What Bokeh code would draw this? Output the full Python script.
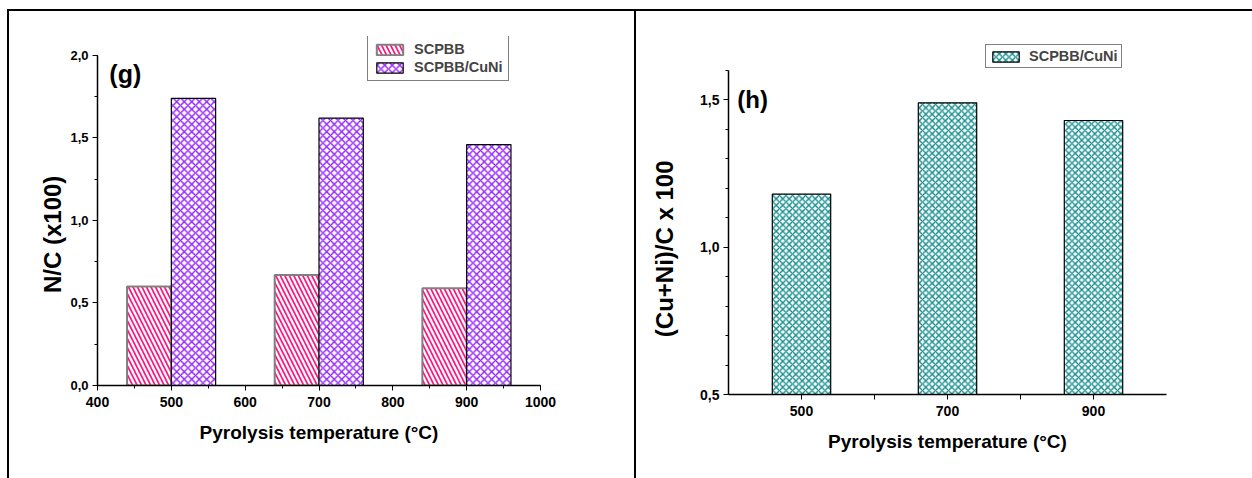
from bokeh.plotting import figure
from bokeh.layouts import row
from bokeh.models import (ColumnDataSource, Legend, LegendItem, Label,
                          SingleIntervalTicker, FixedTicker, CustomJSTickFormatter)
from bokeh.transform import dodge
from bokeh.embed import file_html
from bokeh.resources import INLINE

# ---------------- data ----------------
temperatures = [500, 700, 900]
nc_scpbb = [0.60, 0.67, 0.59]
nc_scpbb_cuni = [1.74, 1.62, 1.46]
cuni_over_c = [1.18, 1.49, 1.43]
series_labels = ["SCPBB", "SCPBB/CuNi"]
panel_tags = ["(g)", "(h)"]
x_title = "Pyrolysis temperature (°C)"
y_title_g = "N/C (x100)"
y_title_h = "(Cu+Ni)/C x 100"

# ---------------- style ----------------
FONT = "Liberation Sans"
PINK = "#FF1480"
PURPLE = "#8F1CFF"
TEAL = "#178E8E"
NBSP = "\u00a0"

comma_fmt = CustomJSTickFormatter(code="return tick.toFixed(1).replace('.', ',');")


def style(p, ytick_size, xtick_size):
    p.xgrid.visible = False
    p.ygrid.visible = False
    p.outline_line_color = None
    p.background_fill_color = "white"
    p.border_fill_alpha = 0.0
    for ax in (p.xaxis[0], p.yaxis[0]):
        ax.axis_line_color = "black"
        ax.axis_line_width = 1.5
        ax.major_tick_line_color = "black"
        ax.minor_tick_line_color = "black"
        ax.major_tick_line_width = 1
        ax.minor_tick_line_width = 1
        ax.major_tick_in = 0
        ax.minor_tick_in = 0
        ax.major_tick_out = 5
        ax.minor_tick_out = 3
        ax.major_label_text_font = FONT
        ax.major_label_text_font_style = "bold"
        ax.major_label_text_color = "black"
        ax.axis_label_text_font = FONT
        ax.axis_label_text_font_style = "bold"
        ax.axis_label_text_color = "black"
    p.yaxis[0].major_label_text_font_size = ytick_size
    p.xaxis[0].major_label_text_font_size = xtick_size
    p.yaxis[0].axis_label_text_font_size = "24px"
    p.xaxis[0].axis_label_text_font_size = "19px"


LINE = "linear-gradient(#000,#000)"

# ---------------- panel (g) ----------------
src_g = ColumnDataSource(dict(temp=temperatures, scpbb=nc_scpbb, cuni=nc_scpbb_cuni))

p1 = figure(frame_width=443, frame_height=349, x_range=(400, 1000), y_range=(0, 2.115),
            output_backend="svg", toolbar_location=None, title=None,
            min_border_left=97, min_border_right=96, min_border_top=36, min_border_bottom=93)
style(p1, "13px", "14px")
p1.xaxis[0].ticker = SingleIntervalTicker(interval=100, num_minor_ticks=2)
p1.yaxis[0].ticker = SingleIntervalTicker(interval=0.5, num_minor_ticks=2)
p1.yaxis[0].bounds = (0, 2.0)
p1.yaxis[0].formatter = comma_fmt
p1.xaxis[0].axis_label = x_title
p1.yaxis[0].axis_label = y_title_g + NBSP * 7
p1.xaxis[0].major_label_standoff = 6
p1.xaxis[0].axis_label_standoff = 12
p1.yaxis[0].major_label_standoff = 4
p1.yaxis[0].axis_label_standoff = 1

r1 = p1.vbar(x=dodge("temp", -30, range=p1.x_range), top="scpbb", bottom=0, width=60,
             source=src_g, fill_color="white", hatch_pattern="\\", hatch_color=PINK,
             hatch_scale=9, hatch_weight=1.7, line_color="#808080", line_width=2)
r2 = p1.vbar(x=dodge("temp", 30, range=p1.x_range), top="cuni", bottom=0, width=60,
             source=src_g, fill_color="white", hatch_pattern="x", hatch_color=PURPLE,
             hatch_scale=7.5, hatch_weight=1.4, line_color="black", line_width=1.2)

leg1 = Legend(items=[LegendItem(label=series_labels[0], renderers=[r1]),
                     LegendItem(label=series_labels[1], renderers=[r2])],
              location=(270, 304), border_line_color="black", border_line_width=1,
              padding=5, spacing=2, margin=0, glyph_width=33, glyph_height=13,
              label_standoff=8, label_height=13, label_text_font=FONT,
              label_text_font_style="bold", label_text_font_size="14.5px",
              background_fill_color="white", background_fill_alpha=1.0)
p1.add_layout(leg1)

p1.add_layout(Label(x=416, y=1.805, text=panel_tags[0], text_font=FONT,
                    text_font_style="bold", text_font_size="25px", text_color="black"))

p1.styles = {"background": (f"{LINE} 7px 9px / 629px 2px no-repeat, "
                            f"{LINE} 7px 9px / 2px 470px no-repeat, "
                            f"{LINE} 634px 9px / 2px 470px no-repeat")}

# ---------------- panel (h) ----------------
src_h = ColumnDataSource(dict(temp=temperatures, ratio=cuni_over_c))

p2 = figure(frame_width=438, frame_height=358, x_range=(400, 1000), y_range=(0.5, 1.715),
            output_backend="svg", toolbar_location=None, title=None,
            min_border_left=92, min_border_right=86, min_border_top=36, min_border_bottom=84)
style(p2, "14px", "14px")
mid_ticks = [(a + b) / 2 for a, b in zip(temperatures, temperatures[1:])]
p2.xaxis[0].ticker = FixedTicker(ticks=temperatures, minor_ticks=mid_ticks)
p2.xaxis[0].minor_tick_out = 5
p2.yaxis[0].ticker = SingleIntervalTicker(interval=0.5, num_minor_ticks=5)
p2.yaxis[0].bounds = (0.5, 1.6)
p2.yaxis[0].formatter = comma_fmt
p2.xaxis[0].axis_label = x_title
p2.yaxis[0].axis_label = y_title_h + NBSP * 10
p2.xaxis[0].major_label_standoff = 6
p2.xaxis[0].axis_label_standoff = 12
p2.yaxis[0].major_label_standoff = 4
p2.yaxis[0].axis_label_standoff = 19

r3 = p2.vbar(x="temp", top="ratio", bottom=0.5, width=80, source=src_h,
             fill_color="white", hatch_pattern="x", hatch_color=TEAL,
             hatch_scale=6.5, hatch_weight=1.4, line_color="black", line_width=1.2)

leg2 = Legend(items=[LegendItem(label=series_labels[1], renderers=[r3])],
              location=(257, 326), border_line_color="black", border_line_width=1,
              padding=3, spacing=0, margin=0, glyph_width=33, glyph_height=13,
              label_standoff=7, label_height=13, label_text_font=FONT,
              label_text_font_style="bold", label_text_font_size="14.5px",
              background_fill_color="white", background_fill_alpha=1.0)
p2.add_layout(leg2)

p2.add_layout(Label(x=412, y=1.455, text=panel_tags[1], text_font=FONT,
                    text_font_style="bold", text_font_size="24px", text_color="black"))

p2.styles = {"background": f"{LINE} 0 9px / 100% 2px no-repeat"}

layout = row(p1, p2)
open("out.html", "w").write(file_html(layout, INLINE))
